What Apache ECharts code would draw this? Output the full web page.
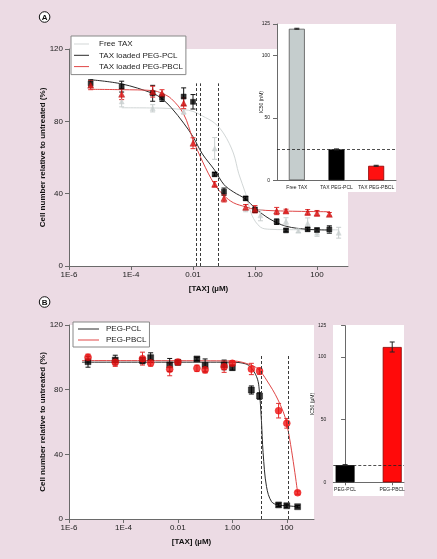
<!DOCTYPE html>
<html><head><meta charset="utf-8">
<script src="https://cdn.jsdelivr.net/npm/echarts@6/dist/echarts.min.js"></script>
<style>html,body{margin:0;padding:0;background:#ecdbe4;}#c{width:437px;height:559px;}</style>
</head><body><div id="c"></div>
<script>
// ---------- Panel A data ----------
const concA = [5e-6,5e-5,5e-4,1e-3,5e-3,1e-2,5e-2,1e-1,5e-1,1,5,10,50,100,250];
const pclA = [101,99.2,95.5,93,93.7,90.8,50.7,41.1,37.4,31,24.5,19.7,20.3,19.9,20.2];
const pclAErr = [2,3,4.4,2,4.8,4,1,2,1,1.5,1.5,0.8,1,1,2];
const pbclA = [100,95,96.4,95.5,90,67.9,45.2,37.4,32.5,31.4,30.4,30.4,29.7,29.2,28.6];
const pbclAErr = [2.5,3,3,2,3,3,1.5,2,1.5,2,2,1,1.5,1.5,1];
const concFreeA = [5e-5,5e-4,5e-3,5e-2,5e-1,1.5,10,25,50,100,250,500];
const freeA = [91,87.2,85.5,65,32,28,24.7,19.5,23.6,18.4,20,18.4];
const freeAErr = [3,2,1.5,6,2,3,2,1,3,2,2,3];
// fitted curves
const fitPclAx = [5e-6,5e-5,5e-4,1e-3,2e-3,5e-3,0.01,0.02,0.05,0.1,0.2,0.5,1,3,10,50,250];
const fitPclAy = [103,100.7,95.5,92.5,87.5,79,71.5,62,53,45,41,37,32,26,22,20.3,19.9];
const fitPbclAx = [5e-6,5e-5,5e-4,1e-3,2e-3,5e-3,0.01,0.02,0.05,0.1,0.2,0.5,1,5,250];
const fitPbclAy = [97.7,97.5,97,95.5,92.5,84,70,58,45,39,35,32.7,31.3,30.5,30];
const fitFreeAx = [5e-5,1e-3,5e-3,0.01,0.02,0.05,0.1,0.2,0.3,0.5,0.8,1.5,3,10,500];
const fitFreeAy = [87.5,87.3,86.5,85.5,83,79,73,62.5,51,40,28,21.5,20.3,20.1,20];
const ic50LinesA = [0.0123, 0.0173, 0.063];
const dashTopA = 101;
const barNamesA = ['Free TAX','TAX PEG-PCL','TAX PEG-PBCL'];
const barValsA = [121.2, 24.7, 11.6];
const barErrA = [0.4, 0.4, 0.4];
const refLineA = 24.7;

// ---------- Panel B data ----------
const concB = [5e-6,5e-5,5e-4,1e-3,5e-3,1e-2,5e-2,0.1,0.5,1,5,10,50,100,250];
const pclB = [97.3,98.3,98,99.8,95.3,96.9,99,95,95.3,93.6,79.8,76.1,8.7,8.2,7.6];
const pclBErr = [3.4,3,2,3,4,1.5,1,4,3,1.5,2.5,2,1,1,0.7];
const pbclB = [100,96.9,99.2,96.5,92.6,97.1,93.2,92.3,94.2,96.3,92.8,91.5,67,59.2,16.3];
const pbclBErr = [2,2.5,4,2,4,1.5,2,2,3.5,1.5,3.5,2,4.5,3,1];
const fitPclBx = [3e-6,1,3,4.8,7.8,9.5,11.7,13.5,18,27.6,48,100,250];
const fitPclBy = [97,97,96,93.8,88,81.8,61,41,20,10.7,8.7,8.2,7.6];
const fitPbclBx = [3e-6,1,4.8,9.5,18,48,100,250];
const fitPbclBy = [98,97.8,95.3,92.2,86,73.6,59,16.3];
const ic50LinesB = [11.8, 112];
const dashTopB = 101;
const barNamesB = ['PEG-PCL','PEG-PBCL'];
const barValsB = [13.7, 108];
const barErrB = [0.4, 4];
const refLineB = 13.7;

// ---------- axis ticks ----------
const logTicks = [1e-6,1e-4,0.01,1,100];
const logTickLabels = ['1E-6','1E-4','0.01','1.00','100'];

// ---------- styles ----------
const FONT = '"Liberation Sans", Arial, Helvetica, sans-serif';
const AX = '#6a6a6a';
const TXT = '#222';
const barStylesA = [
  {color:'#c5cdcd', borderColor:'#555', borderWidth:0.8},
  {color:'#000', borderColor:'#000', borderWidth:0.8},
  {color:'#ff1010', borderColor:'#8a0000', borderWidth:0.8}
];
const barStylesB = [
  {color:'#000', borderColor:'#000', borderWidth:0.8},
  {color:'#ff0a0a', borderColor:'#8a0000', borderWidth:0.8}
];
const ICON15 = 'path://M0,0L0,0M0,3.5L15,3.5L15,4.5L0,4.5ZM15,8L15,8';
const ICON21 = 'path://M0,0L0,0M0,3.5L21,3.5L21,4.5L0,4.5ZM21,8L21,8';

function logLabel(v){
  for (let i=0;i<logTicks.length;i++){
    if (Math.abs(Math.log10(v)-Math.log10(logTicks[i]))<1e-6) return logTickLabels[i];
  }
  return '';
}
function pairs(x,y){ return x.map((c,i)=>[c,y[i]]); }
function errSeries(name,x,y,err,color,xi,yi,cap){
  return {type:'custom', name, xAxisIndex:xi, yAxisIndex:yi, z:3, silent:true,
    data:x.map((c,i)=>[c,y[i],err[i]]),
    renderItem(params, api){
      const c=api.value(0), v=api.value(1), e=api.value(2);
      const p1=api.coord([c,v+e]), p2=api.coord([c,v-e]);
      const st={stroke:color, lineWidth:1};
      return {type:'group', children:[
        {type:'line', shape:{x1:p1[0],y1:p1[1],x2:p2[0],y2:p2[1]}, style:st},
        {type:'line', shape:{x1:p1[0]-cap,y1:p1[1],x2:p1[0]+cap,y2:p1[1]}, style:st},
        {type:'line', shape:{x1:p2[0]-cap,y1:p2[1],x2:p2[0]+cap,y2:p2[1]}, style:st}
      ]};
    }};
}
function pts(name,x,y,symbol,size,color,border,xi,yi){
  return {type:'scatter', name, xAxisIndex:xi, yAxisIndex:yi, symbol, symbolSize:size, z:4, silent:true,
    itemStyle:{color, borderColor:border, borderWidth:0.5}, data:pairs(x,y)};
}
function curve(name,x,y,color,xi,yi,extra){
  return Object.assign({type:'line', name, xAxisIndex:xi, yAxisIndex:yi, symbol:'none', smooth:0.35,
    z:2, silent:true, lineStyle:{color, width:1}, itemStyle:{color}, data:pairs(x,y)}, extra||{});
}
function dashV(lines, top){
  return {silent:true, symbol:'none', label:{show:false}, lineStyle:{color:'#3a3a3a', type:[3,2], width:1},
    data: lines.map(c=>[{coord:[c,0]},{coord:[c,top]}])};
}
function dashH(v){
  return {silent:true, symbol:'none', label:{show:false}, lineStyle:{color:'#222', type:[3,2], width:0.8},
    data:[{yAxis:v}]};
}
function mainX(grid){
  return {type:'log', logBase:10, gridIndex:grid, min:1e-6, max:1000,
    name:'[TAX] (µM)', nameLocation:'middle', nameGap:19, nameMoveOverlap:false,
    nameTextStyle:{fontSize:8, fontWeight:'bold', fontFamily:FONT, color:'#111'},
    axisLine:{lineStyle:{color:AX}}, axisTick:{length:4, lineStyle:{color:AX}, customValues:logTicks},
    axisLabel:{fontSize:8, fontFamily:FONT, color:TXT, margin:5, customValues:logTicks, formatter:logLabel},
    splitLine:{show:false}, minorTick:{show:false}};
}
function mainY(grid){
  return {type:'value', gridIndex:grid, min:0, max:120, interval:40,
    name:'Cell number relative to untreated (%)', nameLocation:'middle', nameGap:22, nameMoveOverlap:false,
    nameTextStyle:{fontSize:8, fontWeight:'bold', fontFamily:FONT, color:'#111'},
    axisLine:{show:true, lineStyle:{color:AX}}, axisTick:{show:true, length:4, lineStyle:{color:AX}},
    axisLabel:{fontSize:8, fontFamily:FONT, color:TXT, margin:6}, splitLine:{show:false}};
}
function insetY(grid, name, gap){
  return {type:'value', gridIndex:grid, min:0, max:125, interval:50,
    name, nameLocation:'middle', nameGap:gap, nameMoveOverlap:false,
    nameTextStyle:{fontSize:5, fontFamily:FONT, color:'#111'},
    axisLine:{show:true, lineStyle:{color:AX}}, axisTick:{show:true, length:4, lineStyle:{color:AX}},
    axisLabel:{fontSize:5, fontFamily:FONT, color:TXT, margin:7}, splitLine:{show:false}};
}

const chart = echarts.init(document.getElementById('c'), null, {renderer:'canvas'});
chart.setOption({
  animation:false,
  backgroundColor:'#ecdbe4',
  textStyle:{fontFamily:FONT},
  grid:[
    {left:69, top:49, width:279, height:217, show:true, backgroundColor:'#fff', borderWidth:0, outerBoundsMode:'none'},
    {left:277, top:24, width:119, height:156.3, outerBoundsMode:'none'},
    {left:69, top:325, width:245, height:194, show:true, backgroundColor:'#fff', borderWidth:0, outerBoundsMode:'none'},
    {left:333.3, top:325.7, width:70.7, height:156.6, outerBoundsMode:'none'}
  ],
  xAxis:[
    mainX(0),
    {type:'category', gridIndex:1, data:barNamesA,
      axisLine:{lineStyle:{color:AX}}, axisTick:{alignWithLabel:true, length:3, lineStyle:{color:AX}},
      axisLabel:{fontSize:5, fontFamily:FONT, color:TXT, margin:5, interval:0}},
    mainX(2),
    {type:'value', gridIndex:3, min:-0.25, max:1.25,
      axisLine:{lineStyle:{color:AX}}, axisTick:{length:3, lineStyle:{color:AX}, customValues:[0,1]},
      axisLabel:{fontSize:5, fontFamily:FONT, color:TXT, margin:5, customValues:[0,1],
        formatter:v=>barNamesB[Math.round(v)]||''}, splitLine:{show:false}}
  ],
  yAxis:[ mainY(0), insetY(1,'IC50 (nM)',13), mainY(2), insetY(3,'IC50 (µM)',18) ],
  legend:[
    {data:[{name:'Free TAX', icon:ICON15},{name:'TAX loaded PEG-PCL', icon:ICON15},{name:'TAX loaded PEG-PBCL', icon:ICON15}],
      left:71, top:36, orient:'vertical',
      itemWidth:15, itemHeight:8, itemGap:3.3, padding:[4,3,4,3], backgroundColor:'#fff',
      borderColor:'#888', borderWidth:1, selectedMode:false,
      textStyle:{fontSize:8, fontFamily:FONT, color:TXT, padding:[0,0,0,5]}},
    {data:[{name:'PEG-PCL', icon:ICON21},{name:'PEG-PBCL', icon:ICON21}], left:73, top:322, orient:'vertical',
      itemWidth:21, itemHeight:8, itemGap:3, padding:[3,3,3,5], backgroundColor:'#fff',
      borderColor:'#888', borderWidth:1, selectedMode:false,
      textStyle:{fontSize:8, fontFamily:FONT, color:TXT, padding:[0,0,0,2]}}
  ],
  graphic:[
    {type:'rect', z:-1, silent:true, shape:{x:277, y:24, width:119, height:168}, style:{fill:'#fff'}},
    {type:'rect', z:-1, silent:true, shape:{x:333, y:325, width:71, height:171}, style:{fill:'#fff'}},
    {type:'circle', silent:true, shape:{cx:44.6, cy:17, r:5.3}, style:{fill:'#fff', stroke:'#111', lineWidth:1}},
    {type:'text', silent:true, x:44.6, y:17.3, style:{text:'A', font:'bold 8px '+FONT, fill:'#111', align:'center', verticalAlign:'middle'}},
    {type:'circle', silent:true, shape:{cx:44.6, cy:302, r:5.3}, style:{fill:'#fff', stroke:'#111', lineWidth:1}},
    {type:'text', silent:true, x:44.6, y:302.3, style:{text:'B', font:'bold 8px '+FONT, fill:'#111', align:'center', verticalAlign:'middle'}}
  ],
  series:[
    // Panel A
    curve('Free TAX', fitFreeAx, fitFreeAy, '#d2d7d7', 0, 0),
    curve('TAX loaded PEG-PCL', fitPclAx, fitPclAy, '#2a2a2a', 0, 0, {markLine:dashV(ic50LinesA, dashTopA)}),
    curve('TAX loaded PEG-PBCL', fitPbclAx, fitPbclAy, '#e04646', 0, 0),
    errSeries('Free TAX err', concFreeA, freeA, freeAErr, '#c9cfcf', 0, 0, 2.5),
    errSeries('PCL A err', concA, pclA, pclAErr, '#111', 0, 0, 2.5),
    errSeries('PBCL A err', concA, pbclA, pbclAErr, '#e23030', 0, 0, 2.5),
    pts('Free TAX pts', concFreeA, freeA, 'triangle', 5, '#c9cfcf', '#c9cfcf', 0, 0),
    pts('PCL A pts', concA, pclA, 'rect', 5, '#000', '#000', 0, 0),
    pts('PBCL A pts', concA, pbclA, 'triangle', 6, '#e01818', '#a00', 0, 0),
    {type:'bar', name:'IC50 A', xAxisIndex:1, yAxisIndex:1, barWidth:16, silent:true,
      data:barValsA.map((v,i)=>({value:v, itemStyle:barStylesA[i]})), markLine:dashH(refLineA)},
    errSeries('IC50 A err', [0,1,2], barValsA, barErrA, '#222', 1, 1, 2.5),
    // Panel B
    curve('PEG-PCL', fitPclBx, fitPclBy, '#2a2a2a', 2, 2, {markLine:dashV(ic50LinesB, dashTopB)}),
    curve('PEG-PBCL', fitPbclBx, fitPbclBy, '#e04646', 2, 2),
    errSeries('PCL B err', concB, pclB, pclBErr, '#111', 2, 2, 2.5),
    errSeries('PBCL B err', concB, pbclB, pbclBErr, '#e23030', 2, 2, 2.5),
    pts('PCL B pts', concB, pclB, 'rect', 6, '#000', '#000', 2, 2),
    pts('PBCL B pts', concB, pbclB, 'circle', 7, '#ee1111', '#ee1111', 2, 2),
    {type:'bar', name:'IC50 B', xAxisIndex:3, yAxisIndex:3, barWidth:19, silent:true,
      data:barValsB.map((v,i)=>({value:[i,v], itemStyle:barStylesB[i]})), markLine:dashH(refLineB)},
    errSeries('IC50 B err', [0,1], barValsB, barErrB, '#222', 3, 3, 2.5)
  ]
});
</script></body></html>
